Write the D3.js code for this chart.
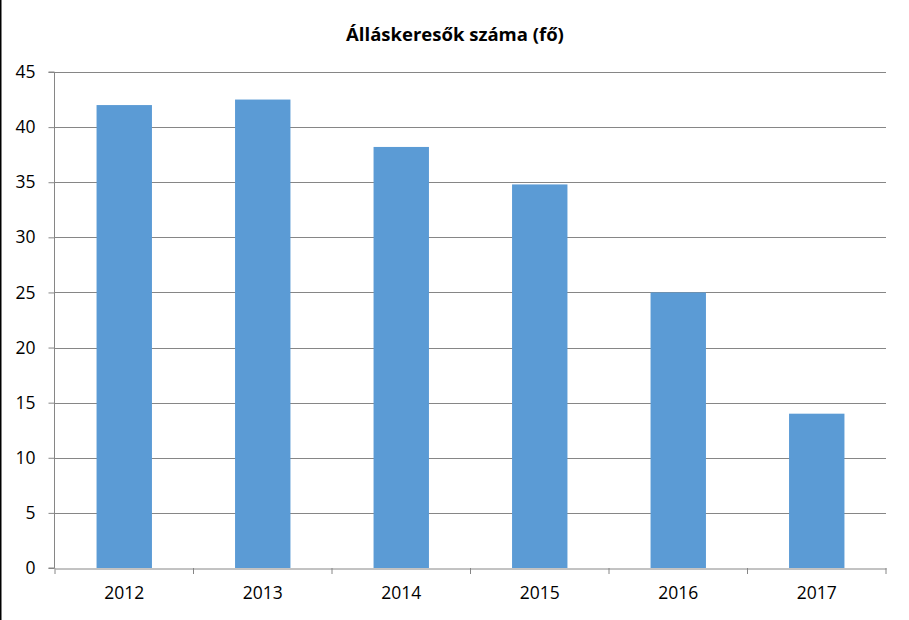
<!DOCTYPE html>
<html><head><meta charset="utf-8">
<script src="https://cdn.jsdelivr.net/npm/d3@7"></script>
<style>body{margin:0;background:#fff}svg{display:block}</style>
</head><body>
<svg id="c" width="909" height="620"></svg>
<script>
const title = "Álláskeresők száma (fő)";
const categories = ["2012","2013","2014","2015","2016","2017"];
const values = [42, 42.5, 38.2, 34.8, 25, 14];
const yTicks = [0,5,10,15,20,25,30,35,40,45];

const svg = d3.select("#c");
const W = 909, H = 620;
const m = {l:55, r:23, t:72, b:52};
const font = "'Open Sans', sans-serif";

svg.append("rect").attr("x",0).attr("y",0).attr("width",W).attr("height",H).attr("fill","#fff");
svg.append("line").attr("x1",0.75).attr("x2",0.75).attr("y1",0).attr("y2",H).attr("stroke","#000").attr("stroke-width",1.5);

const x = d3.scaleBand().domain(categories).range([m.l, W-m.r]).padding(0);
const y = d3.scaleLinear().domain([0,45]).range([H-m.b, m.t]);

// gridlines
svg.append("g").selectAll("line").data(yTicks.filter(d=>d>0)).join("line")
  .attr("x1",m.l).attr("x2",W-m.r)
  .attr("y1",d=>Math.round(y(d))+0.5).attr("y2",d=>Math.round(y(d))+0.5)
  .attr("stroke","#868686").attr("stroke-width",1);

// bars
const bw = x.bandwidth();
svg.append("g").selectAll("rect").data(categories).join("rect")
  .attr("x",(d)=>x(d)+bw*0.3)
  .attr("width",bw*0.4)
  .attr("y",(d,i)=>y(values[i]))
  .attr("height",(d,i)=>y(0)-y(values[i]))
  .attr("fill","#5B9BD5");

// y axis
const yAxis = svg.append("g").attr("transform",`translate(${m.l-0.5},0)`)
  .call(d3.axisLeft(y).tickValues(yTicks).tickSize(6).tickPadding(13).tickFormat(d3.format("d")));
yAxis.select(".domain").attr("stroke","#868686").attr("d",`M-6,${y(45)}H0V${y(0)}H-6`);
yAxis.selectAll(".tick line").attr("stroke","#868686");
yAxis.selectAll(".tick text").attr("font-family",font).attr("font-size","17.5px").attr("fill","#000");

// x axis
const xAxis = svg.append("g").attr("transform",`translate(0,${Math.round(y(0))+0.5})`)
  .call(d3.axisBottom(x).tickSize(0).tickPadding(18));
xAxis.select(".domain").attr("stroke","#868686");
xAxis.selectAll(".tick text").attr("font-family",font).attr("font-size","17.5px").attr("fill","#000");
// category boundary ticks
svg.append("g").selectAll("line").data(categories.concat(["__end"])).join("line")
  .attr("x1",(d,i)=> (i<categories.length? x(d) : x(categories[categories.length-1])+bw) )
  .attr("x2",(d,i)=> (i<categories.length? x(d) : x(categories[categories.length-1])+bw) )
  .attr("y1",y(0)).attr("y2",y(0)+6)
  .attr("stroke","#868686");

svg.append("text").attr("x",455).attr("y",41).attr("text-anchor","middle")
  .attr("font-family",font).attr("font-weight","bold").attr("font-size","18.5px")
  .text(title);
</script>
</body></html>
